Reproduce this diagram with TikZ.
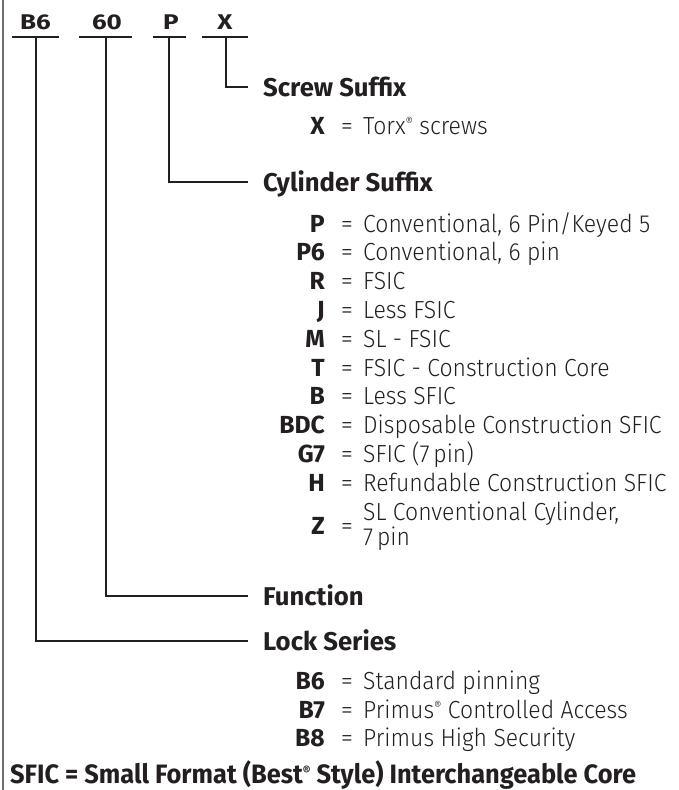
\documentclass[tikz,border=0pt]{standalone}
\usepackage{fontspec}
\usepackage{graphicx}
\setmainfont{Fira Sans}
\newfontfamily\lightfont{Fira Sans Light}
\usetikzlibrary{positioning}
\definecolor{inkdark}{RGB}{35,31,32}
\definecolor{rulegray}{RGB}{110,110,110}
\newcommand{\regmk}{\raisebox{7.5pt}{\fontsize{12.5}{12.5}\selectfont ®}}
\newcommand{\narrowtxt}[1]{\scalebox{0.93}[1]{#1}}
\newcommand{\notetxt}[1]{\scalebox{0.955}[1]{#1}}
\newcommand{\widetxt}[1]{\scalebox{1.22}[1]{#1}}

\tikzset{
  topcode/.style={font=\fontsize{21.3}{21.3}\selectfont\bfseries, anchor=base, inner sep=0pt},
  heading/.style={font=\fontsize{25.7}{25.7}\selectfont\bfseries, anchor=west, inner sep=0pt,
    text height=18pt, text depth=0pt},
  keycode/.style={font=\fontsize{24.7}{24.7}\selectfont\bfseries, anchor=base east, inner sep=0pt},
  eqsign/.style={font=\fontsize{24.7}{24.7}\selectfont\lightfont, anchor=base, inner sep=0pt},
  desc/.style={font=\fontsize{24.7}{25}\selectfont\lightfont, anchor=base west, inner sep=0pt},
  lead/.style={line width=2.6pt, draw=inkdark},
}

\begin{document}
\begin{tikzpicture}[x=1pt, y=-1pt, every node/.append style={text=inkdark}]
\useasboundingbox (0,0) rectangle (679,790);
\draw[rulegray, line width=1.2pt] (3,0) -- (3,790);

% model number and its bars
\node[topcode] (series) at (35.5,29) {\widetxt{B6}};
\node[topcode] (funct) at (107,29) {\widetxt{60}};
\node[topcode] (cyl) at (171,29) {\widetxt{P}};
\node[topcode] (screw) at (225,29) {\widetxt{X}};
\draw[lead] (12,37) -- (59,37);
\draw[lead] (79,37) -- (132,37);
\draw[lead] (153,37) -- (186,37);
\draw[lead] (202,37) -- (248,37);
\coordinate (seriesbar) at (36,37);
\coordinate (functbar) at (106,37);
\coordinate (cylbar) at (169,37);
\coordinate (screwbar) at (226,37);

% ends of the leaders
\coordinate (screwend) at (248,87);
\coordinate (cylend) at (248,182);
\coordinate (functend) at (248,596);
\coordinate (seriesend) at (248,641);

\node[heading, right=15pt of screwend] (screwhd) {Screw Suffix};
\node[heading, right=15pt of cylend] (cylhd) {Cylinder Suffix};
\node[heading, right=15pt of functend] (functhd) {Function};
\node[heading, right=15pt of seriesend] (serieshd) {Lock Series};

\draw[lead] (screwbar) |- (screwend);
\draw[lead] (cylbar) |- (cylend);
\draw[lead] (functbar) |- (functend);
\draw[lead] (seriesbar) |- (seriesend);

% option lists
\foreach \y/\k/\d in {134/X/{Torx\regmk{} screws},
    232/P/{Conventional, 6 Pin/Keyed 5},
    260.8/P6/{Conventional, 6 pin},
    289.6/R/FSIC,
    318.4/J/Less FSIC,
    347.2/M/SL - FSIC,
    376/T/FSIC - Construction Core,
    404.8/B/Less SFIC,
    433.6/BDC/Disposable Construction SFIC,
    462.4/G7/SFIC (7\,pin),
    491.2/H/Refundable Construction SFIC,
    689/B6/Standard pinning,
    718/B7/Primus\regmk{} Controlled Access,
    746/B8/Primus High Security}{
  \node[keycode] (k\y) at (325,\y) {\k};
  \node[eqsign] (e\y) at (347,\y) {=};
  \node[desc] (d\y) at (363,\y) {\narrowtxt{\d}};
}
\node[keycode] (kz) at (325,534) {Z};
\node[eqsign] (ez) at (347,534) {=};
\node[desc] (dza) at (363,520) {\narrowtxt{SL Conventional Cylinder,}};
\node[desc] (dzb) at (363,545) {\narrowtxt{7\,pin}};

\node[font=\fontsize{26.6}{26.6}\selectfont\bfseries, anchor=base west, inner sep=0pt] (note) at (10,783)
  {\notetxt{SFIC = Small Format (Best\regmk{} Style) Interchangeable Core}};
\end{tikzpicture}
\end{document}
